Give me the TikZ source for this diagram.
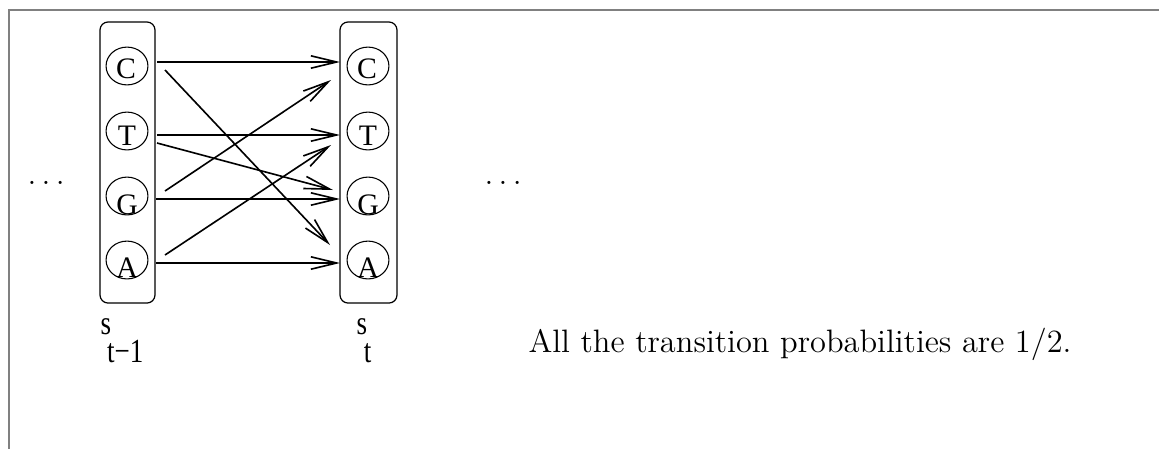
\documentclass[tikz,border=0pt]{standalone}
\usepackage{fontspec}
\newfontfamily\tms{Liberation Serif}
\usetikzlibrary{arrows.meta,shapes.geometric}
\newcommand\mydots{.\kern\fontdimen3\font.\kern\fontdimen3\font.}
\begin{document}
\begin{tikzpicture}[x=0.37pt,y=-0.37pt,
  st/.style={ellipse,draw,line width=0.4pt,inner sep=0pt,minimum width=15.5pt,minimum height=14pt},
  grp/.style={draw,rounded corners=3pt,line width=0.45pt,inner sep=0pt},
  arr/.style={line width=0.6pt,-{Straight Barb[length=9.5pt,width=4.6pt]}},
  lt/.style={font=\tms\fontsize{11}{13}\selectfont,inner sep=0pt},
  lab/.style={font=\tms\fontsize{12.5}{14}\selectfont,inner sep=0pt,anchor=base west},
  txt/.style={font=\fontsize{12}{14}\selectfont,inner sep=0pt,anchor=base west},
  ]
\useasboundingbox (0,0) rectangle (1159,449);
\draw[gray,line width=0.6pt] (1159,10) -- (9,10) -- (9,449);

\node[grp,minimum width=20.35pt,minimum height=104pt] (bl) at (127.5,162.5) {};
\node[grp,minimum width=21.1pt,minimum height=104pt] (br) at (368.5,162.5) {};

\node[st] (lC) at (127,66) {};
\node[st] (lT) at (127,131) {};
\node[st] (lG) at (127,196) {};
\node[st] (lA) at (127,260) {};
\node[st] (rC) at (368,66) {};
\node[st] (rT) at (368,131) {};
\node[st] (rG) at (368,196) {};
\node[st] (rA) at (368,260) {};

\node[lt] (lCt) at (126,69) {\tms C};
\node[lt] (lTt) at (127,136) {\tms T};
\node[lt] (lGt) at (127,205) {\tms G};
\node[lt] (lAt) at (127,268) {\tms A};
\node[lt] (rCt) at (367,69) {\tms C};
\node[lt] (rTt) at (368,136) {\tms T};
\node[lt] (rGt) at (368,205) {\tms G};
\node[lt] (rAt) at (368,268) {\tms A};

\draw[arr] ([shift={(30,-4)}]lC.center) -- ([shift={(-28,-4)}]rC.center);
\draw[arr] ([shift={(38,4)}]lC.center) -- ([shift={(-38,-15)}]rA.center);
\draw[arr] ([shift={(30,4)}]lT.center) -- ([shift={(-28,4)}]rT.center);
\draw[arr] ([shift={(30,12)}]lT.center) -- ([shift={(-35,-6)}]rG.center);
\draw[arr] ([shift={(38,-5)}]lG.center) -- ([shift={(-37,14)}]rC.center);
\draw[arr] ([shift={(29,3)}]lG.center) -- ([shift={(-28,3)}]rG.center);
\draw[arr] ([shift={(38,-5)}]lA.center) -- ([shift={(-37,14)}]rT.center);
\draw[arr] ([shift={(29,3)}]lA.center) -- ([shift={(-28,3)}]rA.center);

\node[txt] (dl) at (27,184) {\mydots};
\node[txt] (dr) at (484,184) {\mydots};

\node[lab] (sl) at (100,362) {\scalebox{0.8}[1]{\tms\raisebox{10pt}{s}\kern-1.8pt t−1}};
\node[lab] (sr) at (356,362) {\scalebox{0.8}[1]{\tms\raisebox{10pt}{s}\kern-1.5pt t}};

\node[txt] (note) at (528,352) {All the transition probabilities are 1/2.};
\end{tikzpicture}
\end{document}
